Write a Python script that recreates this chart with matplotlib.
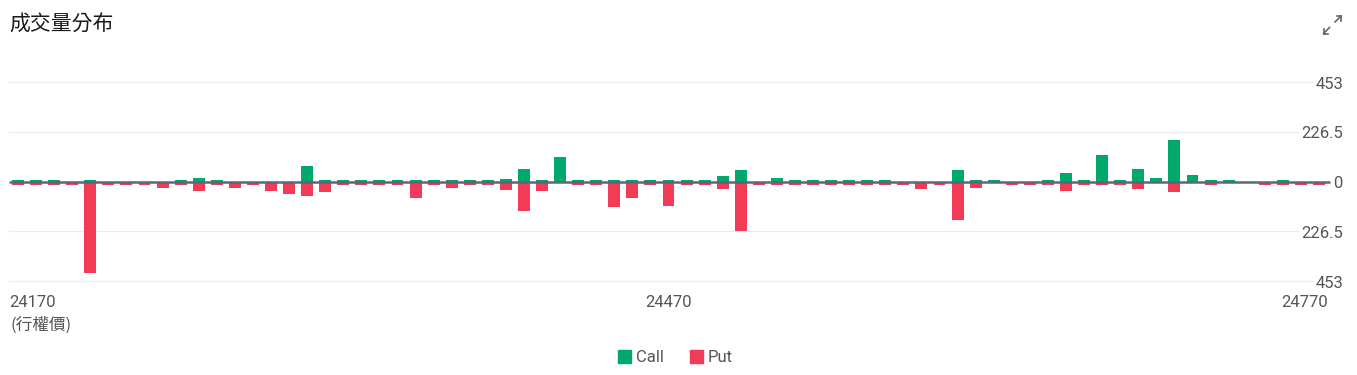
import matplotlib
matplotlib.use("Agg")
import matplotlib.pyplot as plt
import numpy as np
from matplotlib.patches import Rectangle
from matplotlib.lines import Line2D

title = "成交量分布"
x_axis_name = "(行權價)"
tick_labels = ["24170", "24470", "24770"]
tick_index = [0, 36, 72]
y_ticks = [453, 226.5, 0, -226.5, -453]
y_tick_labels = ["453", "226.5", "0", "226.5", "453"]

calls = [8, 8, 8, 0, 8, 0, 0, 0, 0, 8, 17, 8, 0, 0, 0, 0, 71, 8, 8, 8,
         8, 8, 8, 8, 8, 8, 8, 10, 58, 8, 112, 8, 8, 8, 8, 8, 8, 8, 8, 27,
         53, 0, 17, 8, 8, 8, 8, 8, 8, 0, 0, 0, 53, 8, 8, 0, 0, 8, 40, 8,
         122, 8, 58, 17, 191, 30, 8, 8, 0, 0, 8, 0, 0]
puts = [15, 15, 15, 15, 416, 15, 15, 15, 29, 15, 42, 15, 29, 15, 42, 55, 68, 47, 15, 15,
        15, 15, 74, 15, 29, 15, 15, 38, 134, 42, 0, 15, 15, 114, 77, 15, 111, 15, 15, 32,
        225, 15, 15, 15, 15, 15, 15, 15, 15, 15, 32, 15, 175, 29, 0, 15, 15, 15, 42, 15,
        15, 15, 32, 0, 47, 0, 15, 0, 0, 15, 15, 15, 15]

GREEN = "#00a86b"
RED = "#f23b57"
ZERO = "#5b6679"
TXT = "#555555"
NUM_FONT = ["Roboto", "DejaVu Sans"]
CJK_FONT = ["Noto Sans CJK TC", "DejaVu Sans"]

W, H = 1357, 375
fig = plt.figure(figsize=(W / 100, H / 100), dpi=100)
ax = fig.add_axes([9 / W, 1 - 281 / H, (1328 - 9) / W, (281 - 82) / H])

x = np.arange(len(calls))
ax.bar(x, calls, width=0.66, color=GREEN, zorder=2)
ax.bar(x, -np.array(puts), width=0.66, color=RED, zorder=2)

ax.set_xlim(-0.5, len(calls) - 0.5)
ax.set_ylim(-453, 453)

for s in ax.spines.values():
    s.set_visible(False)
ax.set_xticks([])
ax.set_yticks([])

# gridlines
for yv in y_ticks:
    if yv == 0:
        continue
    ax.axhline(yv, color="#ececec", lw=0.9, zorder=0, clip_on=False)
ax.plot([0, 1.0015], [0, 0], transform=ax.get_yaxis_transform(), color=ZERO,
        lw=1.8, zorder=3, clip_on=False, solid_capstyle="butt")

# y labels on the right
import matplotlib.transforms as mtrans
ytrans = mtrans.blended_transform_factory(fig.transFigure, ax.transData)
for yv, lab in zip(y_ticks, y_tick_labels):
    ax.annotate(lab, xy=(1343 / W, yv), xycoords=ytrans, xytext=(0, -1.5),
                textcoords="offset points", ha="right", va="center",
                fontsize=12, color=TXT, family=NUM_FONT, zorder=4, annotation_clip=False,
                bbox=dict(facecolor="white", edgecolor="none", pad=1.0) if yv != 0 else None)

# x labels
has = ["left", "center", "right"]
for idx, lab, ha in zip(tick_index, tick_labels, has):
    if ha == "left":
        xt = -0.5
    elif ha == "right":
        xt = len(calls) - 0.5
    else:
        xt = idx
    ax.annotate(lab, xy=(xt, 0), xycoords=("data", "axes fraction"), xytext=(0, -10),
                textcoords="offset points", ha=ha, va="top", fontsize=12, color=TXT,
                family=NUM_FONT)
fig.text(10 / W, 1 - 325 / H, x_axis_name, ha="left", va="center", fontsize=12,
         color=TXT, family=CJK_FONT)

# title
fig.text(9 / W, 1 - 25 / H, title, ha="left", va="center", fontsize=15, color="#1a1a1a",
         family=CJK_FONT, fontweight=500)

# expand icon
ic = "#666666"
def fl(x0, y0, x1, y1):
    fig.add_artist(Line2D([x0 / W, x1 / W], [1 - y0 / H, 1 - y1 / H], color=ic, lw=1.2))
fl(1323.5, 33.5, 1329.5, 27.5)
fl(1323.5, 33.5, 1323.5, 29)
fl(1323.5, 33.5, 1328, 33.5)
fl(1341, 16, 1335, 22)
fl(1341, 16, 1336.5, 16)
fl(1341, 16, 1341, 20.5)

# legend
fig.add_artist(Rectangle((618 / W, 1 - 363 / H), 13 / W, 13 / H, color=GREEN))
fig.text(636 / W, 1 - 357 / H, "Call", ha="left", va="center", fontsize=12, color=TXT, family=NUM_FONT)
fig.add_artist(Rectangle((690 / W, 1 - 363 / H), 13 / W, 13 / H, color=RED))
fig.text(708 / W, 1 - 357 / H, "Put", ha="left", va="center", fontsize=12, color=TXT, family=NUM_FONT)

fig.savefig("out.png", dpi=100)
